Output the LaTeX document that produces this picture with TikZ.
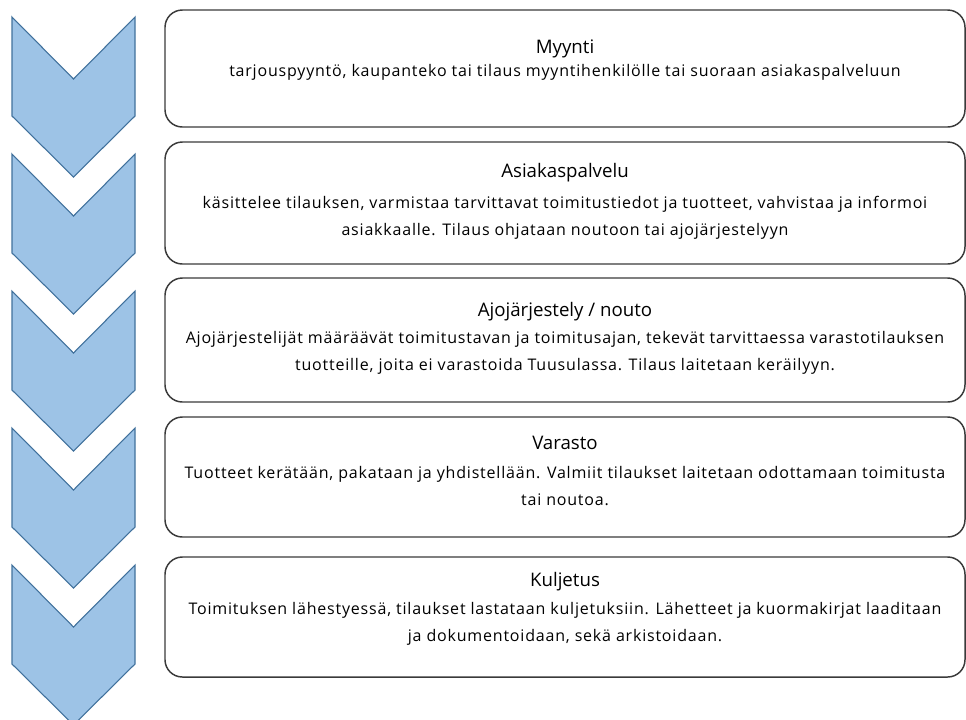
\documentclass[tikz,border=0pt]{standalone}
\usepackage{fontspec}
\setmainfont{Open Sans}
\newfontfamily\stagefont[LetterSpace=5]{Open Sans}
\definecolor{chevfill}{HTML}{9DC3E6}
\definecolor{chevline}{HTML}{41719C}
\definecolor{boxline}{HTML}{3A3A3A}
\begin{document}
\begin{tikzpicture}[x=0.75pt,y=-0.75pt,
    stagebox/.style={draw=boxline, line width=1.1pt, rounded corners=13pt, minimum width=600pt},
    stagetitle/.style={anchor=base, inner sep=0pt, font=\fontsize{14}{16}\selectfont},
    stagetext/.style={anchor=north, inner sep=0pt, align=center, font=\stagefont\fontsize{12}{20}\selectfont}]
    \useasboundingbox (0,0) rectangle (966,719);
    % chevrons
    \foreach \t in {17,154,291,428,565}
        \draw[draw=chevline, line width=0.8pt, fill=chevfill] (12,\t)--(73.5,\t+62)--(135,\t)--(135,\t+99)--(73.5,\t+160)--(12,\t+99)--cycle;
    % boxes
    \node[stagebox, minimum height=87.75pt] (myynti) at (565,68.5) {};
    \node[stagebox, minimum height=91.5pt] (asiakas) at (565,203) {};
    \node[stagebox, minimum height=93pt] (ajo) at (565,340) {};
    \node[stagebox, minimum height=90pt] (varasto) at (565,477) {};
    \node[stagebox, minimum height=90pt] (kuljetus) at (565,617) {};
    % texts
    \node[stagetitle] (myyntiT) at (565,53) {Myynti};
    \node[stagetext] (myyntiB) at (565,64) {tarjouspyyntö, kaupanteko tai tilaus myyntihenkilölle tai suoraan asiakaspalveluun};
    \node[stagetitle] (asiakasT) at (565,177) {Asiakaspalvelu};
    \node[stagetext] (asiakasB) at (565,196) {käsittelee tilauksen, varmistaa tarvittavat toimitustiedot ja tuotteet, vahvistaa ja informoi\\asiakkaalle. Tilaus ohjataan noutoon tai ajojärjestelyyn};
    \node[stagetitle] (ajoT) at (565,316) {Ajojärjestely / nouto};
    \node[stagetext] (ajoB) at (565,331) {Ajojärjestelijät määräävät toimitustavan ja toimitusajan, tekevät tarvittaessa varastotilauksen\\tuotteille, joita ei varastoida Tuusulassa. Tilaus laitetaan keräilyyn.};
    \node[stagetitle] (varastoT) at (565,449) {Varasto};
    \node[stagetext] (varastoB) at (565,466) {Tuotteet kerätään, pakataan ja yhdistellään. Valmiit tilaukset laitetaan odottamaan toimitusta\\tai noutoa.};
    \node[stagetitle] (kuljetusT) at (565,586) {Kuljetus};
    \node[stagetext] (kuljetusB) at (565,602) {Toimituksen lähestyessä, tilaukset lastataan kuljetuksiin. Lähetteet ja kuormakirjat laaditaan\\ja dokumentoidaan, sekä arkistoidaan.};
\end{tikzpicture}
\end{document}
